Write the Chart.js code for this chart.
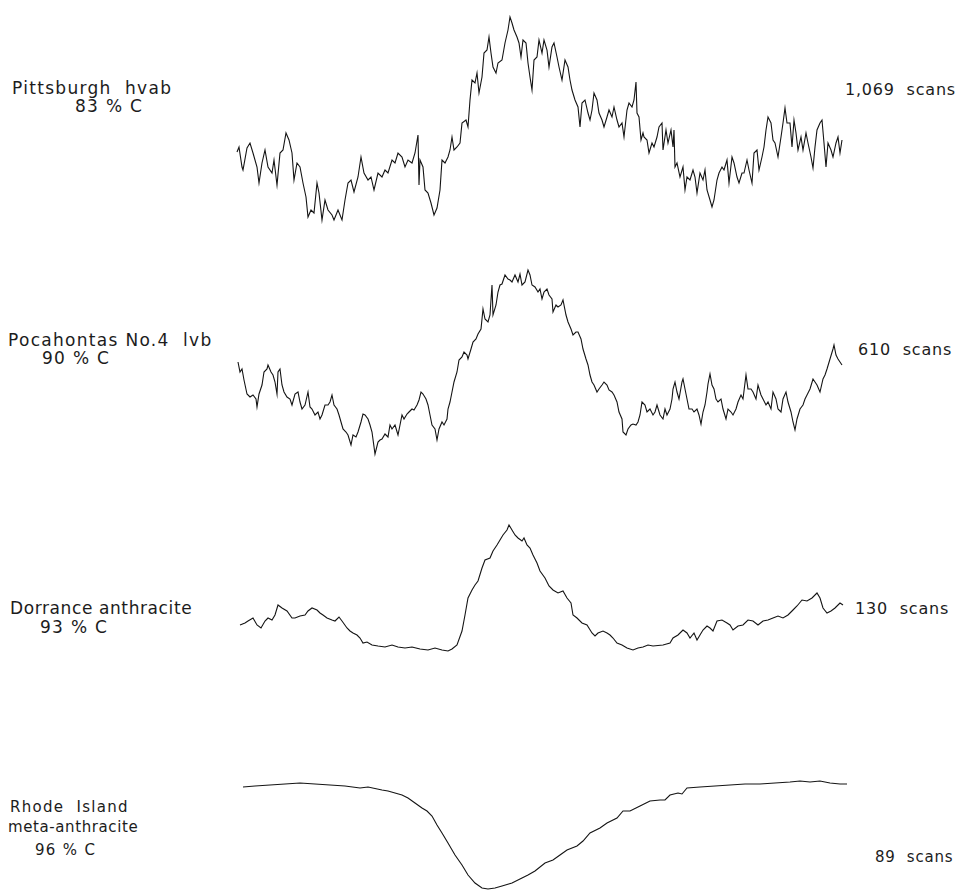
<!DOCTYPE html>
<html>
<head>
<meta charset="utf-8">
<script src="https://cdn.jsdelivr.net/npm/chart.js@4/dist/chart.umd.min.js"></script>
<style>
  html, body { margin: 0; padding: 0; background: #fff; }
  #fig { position: relative; width: 964px; height: 890px; overflow: hidden;
         font-family: "DejaVu Sans", sans-serif; color: #1c1c1c; }
  .lbl { position: absolute; white-space: pre; line-height: 1; letter-spacing: 1.3px; }
  .scan { letter-spacing: 0.8px; font-size: 16px; }
  .panel { position: absolute; }
</style>
</head>
<body>
<div id="fig">
  <div class="lbl" style="left:12px;top:80px;font-size:17px">Pittsburgh  hvab</div>
  <div class="lbl" style="left:75px;top:98px;font-size:17px">83 % C</div>
  <div class="lbl" style="left:8px;top:332px;font-size:17px">Pocahontas No.4  lvb</div>
  <div class="lbl" style="left:42px;top:350px;font-size:17px">90 % C</div>
  <div class="lbl" style="left:10px;top:600px;font-size:17px;letter-spacing:0.6px">Dorrance anthracite</div>
  <div class="lbl" style="left:40px;top:619px;font-size:17px">93 % C</div>
  <div class="lbl" style="left:10px;top:800px;font-size:15px">Rhode  Island</div>
  <div class="lbl" style="left:8px;top:820px;font-size:15px;letter-spacing:0.6px">meta-anthracite</div>
  <div class="lbl" style="left:35px;top:843px;font-size:15px">96 % C</div>

  <div class="lbl scan" style="left:845px;top:82px">1,069  scans</div>
  <div class="lbl scan" style="left:858px;top:342px">610  scans</div>
  <div class="lbl scan" style="left:855px;top:601px">130  scans</div>
  <div class="lbl scan" style="left:875px;top:850px;font-size:15px">89  scans</div>
</div>
<script>
// Sweep position (arbitrary field units) and derivative signal amplitude for each coal.
const pittsburghField = [1,3,6,7,11,14,17,21,23,26,29,32,36,38,41,44,47,50,53,56,58,61,64,67,70,72,75,78,81,83,86,89,92,96,98,102,106,109,112,115,118,122,125,128,132,135,138,142,146,149,152,156,159,162,166,169,172,176,179,182,183,184,187,189,192,195,198,201,204,206,209,212,214,216,218,221,224,226,230,232,234,236,239,241,243,246,248,251,253,255,257,260,262,266,269,272,274,276,278,281,283,285,287,290,292,294,296,298,301,303,306,308,311,313,316,318,321,323,326,329,332,334,336,339,342,344,346,349,352,354,356,358,361,363,366,368,371,373,376,378,381,383,386,388,391,393,396,398,400,401,403,405,407,408,411,413,416,418,421,423,426,427,430,432,435,437,438,439,441,444,447,449,451,454,457,459,461,464,467,469,471,474,476,478,481,483,486,488,491,493,496,498,501,503,506,508,511,513,516,518,521,523,526,528,530,532,535,537,539,542,545,547,549,551,554,556,558,560,562,565,567,570,572,575,577,579,581,584,586,588,590,592,595,597,600,602,604,606];
const pittsburghSignal = [73,78,58,55,77,82,72,58,42,62,75,58,52,65,40,72,75,92,85,72,45,62,58,42,28,8,15,12,42,32,5,25,15,10,5,15,5,25,42,45,33,48,68,52,45,48,35,52,48,55,52,65,62,72,68,58,65,62,72,90,40,65,58,35,32,22,10,17,35,65,62,68,75,88,75,78,82,102,105,98,125,145,142,152,132,148,172,175,188,172,158,152,162,165,182,195,208,202,195,188,182,168,185,182,162,148,135,165,168,185,172,185,175,158,178,182,168,158,145,165,158,145,135,125,118,98,122,125,112,105,115,132,125,112,105,98,108,115,108,118,105,98,102,88,115,122,118,125,143,112,108,85,92,88,85,72,82,78,88,98,102,75,95,82,95,78,95,58,62,48,58,35,48,45,55,48,32,52,45,55,35,25,18,25,45,52,58,55,65,42,68,62,48,42,52,52,65,55,42,72,75,55,68,78,95,108,102,85,82,68,88,102,117,102,102,78,105,92,75,88,75,92,82,68,57,78,95,102,105,82,58,82,75,68,82,88,72,85];

const pocahontasField = [2,4,6,8,11,14,17,20,21,23,26,28,31,32,35,37,39,41,42,44,46,48,51,54,56,59,62,64,66,69,72,74,76,79,82,84,86,89,92,94,96,98,101,103,105,107,110,112,115,117,120,122,125,127,129,132,134,136,139,142,144,146,149,152,154,156,159,162,164,166,168,171,173,176,178,181,183,185,187,190,192,194,196,199,201,203,206,208,211,212,214,216,218,221,223,226,228,231,232,235,237,240,242,245,247,249,252,254,256,257,260,262,264,266,269,272,274,276,279,282,284,286,289,292,294,296,299,302,304,306,308,311,313,316,317,320,322,325,327,330,332,335,337,340,342,345,347,350,352,354,356,358,361,363,366,368,371,373,376,378,381,383,386,387,390,392,395,397,400,402,404,406,409,411,414,417,419,421,424,427,429,431,434,436,437,439,441,443,446,447,449,451,453,456,458,461,463,465,467,469,471,472,474,476,478,480,482,485,487,490,492,495,497,500,502,505,507,510,512,515,517,520,522,525,527,530,532,535,537,540,542,545,547,550,552,555,557,559,561,564,567,569,571,574,577,579,581,584,587,589,591,594,597,598,600,602,606];
const pocahontasSignal = [100,90,93,82,68,65,67,63,55,68,77,90,93,97,90,87,80,68,90,93,77,70,65,63,57,68,70,60,53,57,70,55,53,47,50,43,47,57,57,60,67,57,53,47,40,33,30,27,17,27,25,30,40,48,47,43,37,30,8,20,22,23,28,25,37,33,37,27,37,47,43,48,50,53,52,57,62,70,68,63,57,47,37,33,22,33,40,37,43,53,60,70,80,90,102,105,110,107,103,113,120,123,128,133,153,143,140,147,177,147,157,170,177,178,187,183,182,180,187,180,188,177,180,192,187,177,175,170,173,163,170,173,167,163,150,157,155,157,162,147,140,133,127,130,130,123,113,103,97,87,80,77,70,73,77,80,77,72,70,67,60,50,43,30,27,33,37,38,37,40,47,60,57,50,53,47,50,57,47,43,53,47,53,63,73,80,70,63,80,83,73,63,53,53,50,53,47,38,50,57,70,78,88,77,73,63,60,63,53,43,53,50,47,53,60,67,63,87,73,73,70,63,77,67,63,57,60,53,70,63,53,50,63,70,60,50,40,32,43,53,57,63,67,73,83,80,77,70,83,87,93,103,113,117,107,103,97];

const dorranceField = [4,9,12,17,21,25,29,32,36,39,42,46,51,56,59,64,69,72,76,81,84,87,91,96,99,103,106,111,114,117,121,124,127,131,136,142,149,156,162,169,176,184,192,199,206,212,216,221,226,229,232,236,239,242,246,249,254,257,261,264,267,271,273,276,279,282,286,288,291,294,297,301,304,309,313,317,322,327,331,335,337,341,346,351,356,359,362,367,371,374,377,381,386,391,397,402,407,412,417,427,434,437,442,447,451,454,458,461,464,467,471,474,477,481,486,491,494,497,502,507,512,517,522,527,532,537,542,547,552,557,561,566,571,576,581,584,587,591,595,599,604,607];
const dorranceSignal = [27,29,31,34,27,24,31,34,32,37,47,44,41,34,34,36,37,41,44,42,39,37,34,32,31,35,31,24,21,19,17,14,9,10,7,6,5,7,5,4,5,3,2,4,2,1,3,7,21,37,54,62,67,71,84,92,94,101,107,112,117,122,127,122,117,114,111,114,107,104,97,89,81,74,66,62,59,61,54,49,37,34,29,27,19,16,19,21,19,17,14,9,7,4,2,4,5,7,6,7,9,14,17,22,19,14,19,12,17,22,26,24,21,31,32,29,27,22,26,27,32,31,27,31,32,34,36,34,37,42,46,52,51,54,59,54,44,39,41,44,49,47];

const rhodeIslandField = [7,19,34,49,64,79,94,109,124,132,146,152,159,166,172,179,186,191,196,201,206,212,219,226,232,239,246,252,259,266,276,286,292,299,309,317,324,331,341,347,354,364,371,381,387,394,404,414,424,429,434,442,446,451,464,479,494,509,524,539,554,564,574,584,594,604,611];
const rhodeIslandSignal = [103,104,105,106,107,106,105,104,102,103,100,99,97,95,92,87,82,79,74,65,57,47,35,25,15,7,2,1,2,4,7,12,15,19,27,30,35,40,44,49,57,62,67,72,79,79,84,89,90,90,95,97,96,102,103,104,105,106,106,107,108,109,108,109,107,106,106];

const traces = [
  { field: pittsburghField, signal: pittsburghSignal, yMax: 210, bottom: 225 },
  { field: pocahontasField, signal: pocahontasSignal, yMax: 200, bottom: 462 },
  { field: dorranceField, signal: dorranceSignal, yMax: 130, bottom: 652 },
  { field: rhodeIslandField, signal: rhodeIslandSignal, yMax: 112, bottom: 890 }
];

const fig = document.getElementById('fig');
const PAD = 4;
const SWEEP = 614;

traces.forEach((t) => {
  const holder = document.createElement('div');
  holder.className = 'panel';
  holder.style.left = (236 - PAD) + 'px';
  holder.style.top = (t.bottom - t.yMax - PAD) + 'px';
  holder.style.width = (SWEEP + 2 * PAD) + 'px';
  holder.style.height = (t.yMax + 2 * PAD) + 'px';
  const canvas = document.createElement('canvas');
  holder.appendChild(canvas);
  fig.appendChild(holder);

  new Chart(canvas, {
    type: 'line',
    data: {
      datasets: [{
        data: t.field.map((x, i) => ({ x: x, y: t.signal[i] })),
        borderColor: '#141414',
        borderWidth: 1.1,
        pointRadius: 0,
        tension: 0,
        fill: false
      }]
    },
    options: {
      responsive: true,
      maintainAspectRatio: false,
      animation: false,
      layout: { padding: PAD },
      plugins: { legend: { display: false }, tooltip: { enabled: false } },
      scales: {
        x: { type: 'linear', min: 0, max: SWEEP, display: false },
        y: { min: 0, max: t.yMax, display: false }
      }
    }
  });
});
</script>
</body>
</html>
